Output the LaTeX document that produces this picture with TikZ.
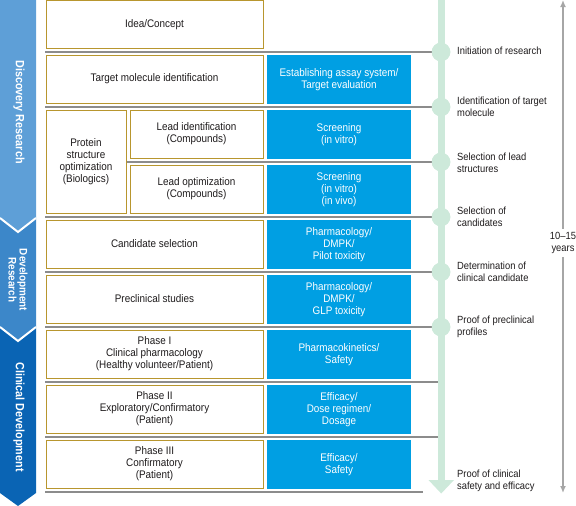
\documentclass[tikz,border=0pt]{standalone}
\usepackage{fontspec}
\setmainfont{Liberation Sans}[FakeStretch=0.9]
\usetikzlibrary{arrows.meta}
\definecolor{goldc}{HTML}{B8962E}
\definecolor{bluec}{HTML}{009FE3}
\definecolor{sepc}{HTML}{8C8C8C}
\definecolor{greenc}{HTML}{CDE9DA}
\definecolor{disc}{HTML}{5E9FD7}
\definecolor{devc}{HTML}{3C87C9}
\definecolor{clic}{HTML}{0A64B4}
\definecolor{txtc}{HTML}{1E1B1C}
\definecolor{arrc}{HTML}{A6A6A6}
\newcommand\myfs{\fontsize{11}{12}\selectfont}
\newcommand\mymlfs{\fontsize{10.4}{12.3}\selectfont}
\newcommand\mybandfs{\fontsize{12}{12}\selectfont\bfseries}
\begin{document}
\begin{tikzpicture}[x=1pt,y=-1pt,
  wbox/.style={draw=goldc, line width=0.9pt, fill=white, inner sep=0pt, align=center, text=txtc, font=\myfs},
  bbox/.style={fill=bluec, text=white, inner sep=0pt, align=center, minimum width=144pt, minimum height=49pt, font=\myfs},
  sepline/.style={draw=sepc, line width=2.6pt},
  mile/.style={circle, fill=greenc, inner sep=0pt, minimum size=18.6pt},
  mlabel/.style={anchor=west, align=left, inner xsep=0pt, font=\mymlfs, text=txtc},
  bandtext/.style={rotate=-90, text=white, font=\mybandfs, align=center, inner sep=0pt}]
\useasboundingbox (0,0) rectangle (576,506);

% phase bands
\fill[disc] (0,0) -- (36,0) -- (36,218) -- (18,232) -- (0,218) -- cycle;
\fill[devc] (0,218) -- (18,232) -- (36,218) -- (36,327) -- (18,341) -- (0,327) -- cycle;
\fill[clic] (0,327) -- (18,341) -- (36,327) -- (36,493) -- (18,506) -- (0,493) -- cycle;
\draw[white, line width=2pt] (0,218) -- (18,232) -- (36,218);
\draw[white, line width=2pt] (0,327) -- (18,341) -- (36,327);
\node[bandtext] (bdisc) at (19,112) {Discovery Research};
\node[bandtext, font=\fontsize{11}{11}\selectfont\bfseries] (bdev) at (18,280) {Development\\Research};
\node[bandtext] (bcli) at (19,417) {Clinical Development};

% separator lines
\coordinate (s1) at (45,52);
\coordinate (s2) at (45,107);
\coordinate (s3) at (126,162);
\coordinate (s4) at (45,217);
\coordinate (s5) at (45,272);
\coordinate (s6) at (45,327);
\coordinate (s7) at (45,382);
\coordinate (s8) at (45,437);
\coordinate (s9) at (45,492);
\coordinate (e7) at (441,382);
\coordinate (e8) at (441,437);
\coordinate (e9) at (423,492);
\node[mile] (m1) at (441,52) {};
\node[mile] (m2) at (441,107) {};
\node[mile] (m3) at (441,162) {};
\node[mile] (m4) at (441,217) {};
\node[mile] (m5) at (441,272) {};
\node[mile] (m6) at (441,327) {};
\draw[sepline] (s1) -- (m1.center);
\draw[sepline] (s2) -- (m2.center);
\draw[sepline] (s3) -- (m3.center);
\draw[sepline] (s4) -- (m4.center);
\draw[sepline] (s5) -- (m5.center);
\draw[sepline] (s6) -- (m6.center);
\draw[sepline] (s7) -- (e7);
\draw[sepline] (s8) -- (e8);
\draw[sepline] (s9) -- (e9);

% timeline
\coordinate (gtop) at (441,0);
\coordinate (gend) at (441,481);
\draw[greenc, line width=7pt] (gtop) -- (gend);
\fill[greenc] (428.5,480) -- (454,480) -- (441.2,493.5) -- cycle;
\node[mile] at (m1) {};
\node[mile] at (m2) {};
\node[mile] at (m3) {};
\node[mile] at (m4) {};
\node[mile] at (m5) {};
\node[mile] at (m6) {};

% white boxes
\node[wbox, minimum width=217pt, minimum height=48pt] (idea) at (154.5,24.5) {Idea/Concept};
\node[wbox, minimum width=217pt, minimum height=48pt] (target) at (154.5,79) {Target molecule identification};
\node[wbox, minimum width=80pt, minimum height=103pt] (protein) at (86,161.5) {Protein\\structure\\optimization\\(Biologics)};
\node[wbox, minimum width=133pt, minimum height=48pt] (leadid) at (196.5,134) {Lead identification\\(Compounds)};
\node[wbox, minimum width=133pt, minimum height=48pt] (leadopt) at (196.5,189) {Lead optimization\\(Compounds)};
\node[wbox, minimum width=217pt, minimum height=48pt] (cand) at (154.5,244) {Candidate selection};
\node[wbox, minimum width=217pt, minimum height=48pt] (precl) at (154.5,299) {Preclinical studies};
\node[wbox, minimum width=217pt, minimum height=48pt] (ph1) at (154.5,354) {Phase I\\Clinical pharmacology\\(Healthy volunteer/Patient)};
\node[wbox, minimum width=217pt, minimum height=48pt] (ph2) at (154.5,409) {Phase II\\Exploratory/Confirmatory\\(Patient)};
\node[wbox, minimum width=217pt, minimum height=48pt] (ph3) at (154.5,464) {Phase III\\Confirmatory\\(Patient)};

% blue boxes
\node[bbox] (b2) at (339,79.5) {Establishing assay system/\\Target evaluation};
\node[bbox] (b3) at (339,134.5) {Screening\\(in vitro)};
\node[bbox] (b4) at (339,189.5) {Screening\\(in vitro)\\(in vivo)};
\node[bbox] (b5) at (339,244.5) {Pharmacology/\\DMPK/\\Pilot toxicity};
\node[bbox] (b6) at (339,299.5) {Pharmacology/\\DMPK/\\GLP toxicity};
\node[bbox] (b7) at (339,354.5) {Pharmacokinetics/\\Safety};
\node[bbox] (b8) at (339,409.5) {Efficacy/\\Dose regimen/\\Dosage};
\node[bbox] (b9) at (339,464.5) {Efficacy/\\Safety};

% milestone labels
\node[mlabel] (l1) at (457,50.5) {Initiation of research};
\node[mlabel] (l2) at (457,107) {Identification of target\\molecule};
\node[mlabel] (l3) at (457,162.5) {Selection of lead\\structures};
\node[mlabel] (l4) at (457,217) {Selection of\\candidates};
\node[mlabel] (l5) at (457,272) {Determination of\\clinical candidate};
\node[mlabel] (l6) at (457,327) {Proof of preclinical\\profiles};
\node[mlabel] (l7) at (457,481) {Proof of clinical\\safety and efficacy};

% duration arrows
\node[font=\mymlfs, text=txtc, align=center] (yrs) at (563,243) {10--15\\years};
\coordinate (ytop) at (563,0);
\coordinate (ybot) at (563,493);
\draw[arrc, line width=1.6pt, -{Latex[length=7pt,width=6pt]}] (yrs.north) -- (ytop);
\draw[arrc, line width=1.6pt, -{Latex[length=7pt,width=6pt]}] (yrs.south) -- (ybot);
\end{tikzpicture}
\end{document}
